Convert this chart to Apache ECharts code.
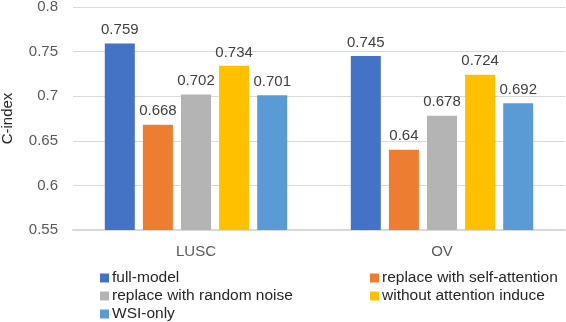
<!DOCTYPE html>
<html>
<head>
<meta charset="utf-8">
<script src="https://cdn.jsdelivr.net/npm/echarts@6/dist/echarts.min.js"></script>
<style>
  html, body { margin: 0; padding: 0; background: #fff; }
  #chart { width: 566px; height: 322px; }
</style>
</head>
<body>
<div id="chart"></div>
<script>
const categories = ['LUSC', 'OV'];
const seriesNames = [
  'full-model',
  'replace with self-attention',
  'replace with random noise',
  'without attention induce',
  'WSI-only'
];
const fullModel = [0.759, 0.745];
const selfAttention = [0.668, 0.64];
const randomNoise = [0.702, 0.678];
const withoutInduce = [0.734, 0.724];
const wsiOnly = [0.701, 0.692];
const colors = ['#4472C4', '#ED7D31', '#B4B4B4', '#FFC000', '#5B9BD5'];

const values = [fullModel, selfAttention, randomNoise, withoutInduce, wsiOnly];
const font = 'Liberation Sans, Arial, sans-serif';

const chart = echarts.init(document.getElementById('chart'));

const legendBase = {
  orient: 'vertical',
  top: 265,
  height: 70,
  icon: 'rect',
  itemWidth: 9,
  itemHeight: 9,
  itemGap: 2,
  textStyle: { fontFamily: font, fontSize: 15.5, lineHeight: 16, color: '#262626', padding: [0, 0, 0, -2] }
};

const option = {
  animation: false,
  color: colors,
  grid: { left: 73, right: 1, top: 7, bottom: 92, outerBoundsMode: 'none', containLabel: false },
  legend: [
    Object.assign({}, legendBase, { left: 95, data: [seriesNames[0], seriesNames[2], seriesNames[4]] }),
    Object.assign({}, legendBase, { left: 365, data: [seriesNames[1], seriesNames[3]] })
  ],
  xAxis: {
    type: 'category',
    data: categories,
    axisTick: { show: false },
    axisLine: { lineStyle: { color: '#d9d9d9', width: 2 } },
    axisLabel: { fontFamily: font, fontSize: 15, color: '#595959', margin: 14 }
  },
  yAxis: {
    type: 'value',
    min: 0.55,
    max: 0.8,
    interval: 0.05,
    name: 'C-index',
    nameLocation: 'middle',
    nameRotate: 90,
    nameGap: 58,
    nameTextStyle: { fontFamily: font, fontSize: 15, color: '#262626' },
    axisLabel: {
      fontFamily: font, fontSize: 15, color: '#595959', margin: 15,
      formatter: v => String(Math.round(v * 100) / 100)
    },
    splitLine: { lineStyle: { color: '#d9d9d9' } }
  },
  series: seriesNames.map((name, i) => ({
    name: name,
    type: 'bar',
    data: values[i],
    barWidth: 30,
    barGap: '27%',
    label: {
      show: true,
      position: 'top',
      distance: 6,
      fontFamily: font,
      fontSize: 15,
      color: '#404040'
    }
  }))
};

chart.setOption(option);
</script>
</body>
</html>
